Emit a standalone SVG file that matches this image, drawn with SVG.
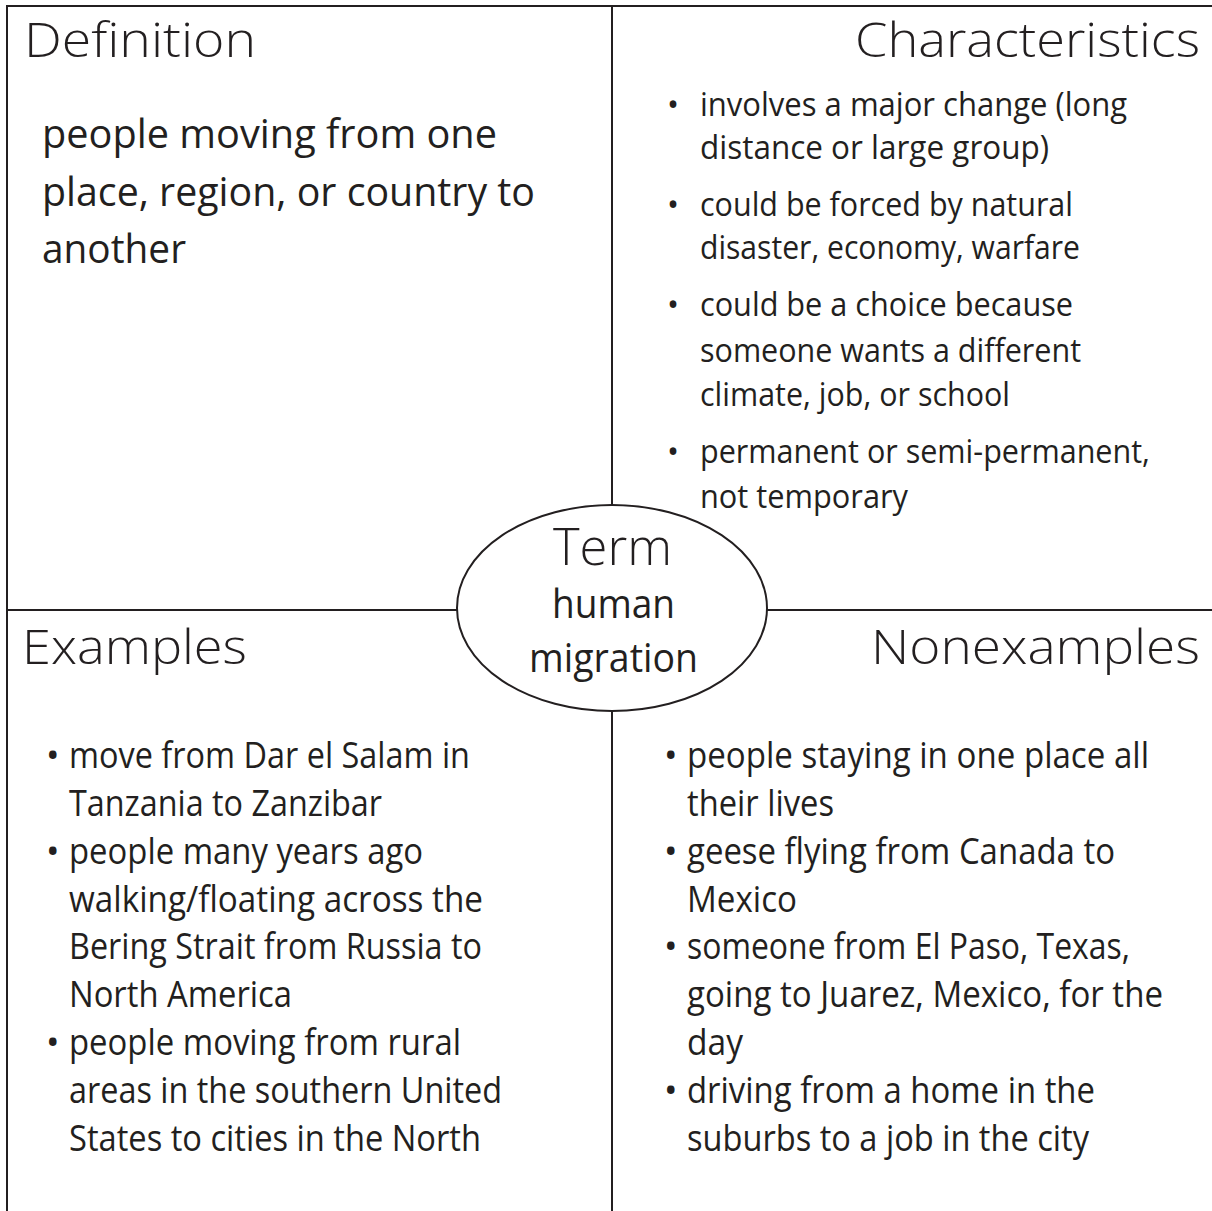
<svg xmlns="http://www.w3.org/2000/svg" width="1212" height="1211" viewBox="0 0 1212 1211">
<style>
.ln{stroke:#231f20;stroke-width:2;fill:none}
.hd{font-family:"Open Sans","Noto Sans",sans-serif;font-weight:300;font-size:48px;fill:#231f20}
.bd{font-family:"Open Sans","Noto Sans",sans-serif;font-weight:400;fill:#231f20}
.def{font-size:41px}
.ch{font-size:32px}
.ex{font-size:36px}
.term{font-family:"Open Sans","Noto Sans",sans-serif;font-weight:300;font-size:52px;fill:#231f20}
.tw{font-family:"Open Sans","Noto Sans",sans-serif;font-weight:400;font-size:40px;fill:#231f20}
</style>
<rect width="1212" height="1211" fill="#ffffff"/>
<g id="connectors">
<line class="ln" x1="6" y1="6" x2="1212" y2="6"/>
<line class="ln" x1="7" y1="5" x2="7" y2="1211"/>
<line class="ln" x1="612" y1="6" x2="612" y2="1211"/>
<line class="ln" x1="7" y1="610" x2="1212" y2="610"/>
</g>
<g id="definition">
<text class="hd" x="24" y="57" textLength="232" lengthAdjust="spacingAndGlyphs">Definition</text>
<g class="bd def" lengthAdjust="spacingAndGlyphs">
<text x="42" y="148" textLength="455" lengthAdjust="spacingAndGlyphs">people moving from one</text>
<text x="42" y="206" textLength="493" lengthAdjust="spacingAndGlyphs">place, region, or country to</text>
<text x="42" y="263" textLength="144" lengthAdjust="spacingAndGlyphs">another</text>
</g>
</g>
<g id="characteristics">
<text class="hd" x="1200" y="57" text-anchor="end" textLength="345" lengthAdjust="spacingAndGlyphs">Characteristics</text>
<g class="bd ch">
<text x="667" y="116">•</text>
<text x="700" y="116" textLength="427" lengthAdjust="spacingAndGlyphs">involves a major change (long</text>
<text x="700" y="159" textLength="349" lengthAdjust="spacingAndGlyphs">distance or large group)</text>
<text x="667" y="216">•</text>
<text x="700" y="216" textLength="373" lengthAdjust="spacingAndGlyphs">could be forced by natural</text>
<text x="700" y="259" textLength="380" lengthAdjust="spacingAndGlyphs">disaster, economy, warfare</text>
<text x="667" y="316">•</text>
<text x="700" y="316" textLength="373" lengthAdjust="spacingAndGlyphs">could be a choice because</text>
<text x="700" y="362" textLength="381" lengthAdjust="spacingAndGlyphs">someone wants a different</text>
<text x="700" y="406" textLength="310" lengthAdjust="spacingAndGlyphs">climate, job, or school</text>
<text x="667" y="463">•</text>
<text x="700" y="463" textLength="450" lengthAdjust="spacingAndGlyphs">permanent or semi-permanent,</text>
<text x="700" y="508" textLength="208" lengthAdjust="spacingAndGlyphs">not temporary</text>
</g>
</g>
<g id="examples">
<text class="hd" x="22" y="664" textLength="225" lengthAdjust="spacingAndGlyphs">Examples</text>
<g class="bd ex">
<text x="46" y="768">•</text>
<text x="69" y="768" textLength="401" lengthAdjust="spacingAndGlyphs">move from Dar el Salam in</text>
<text x="69" y="816" textLength="313" lengthAdjust="spacingAndGlyphs">Tanzania to Zanzibar</text>
<text x="46" y="864">•</text>
<text x="69" y="864" textLength="354" lengthAdjust="spacingAndGlyphs">people many years ago</text>
<text x="69" y="912" textLength="414" lengthAdjust="spacingAndGlyphs">walking/floating across the</text>
<text x="69" y="959" textLength="413" lengthAdjust="spacingAndGlyphs">Bering Strait from Russia to</text>
<text x="69" y="1007" textLength="223" lengthAdjust="spacingAndGlyphs">North America</text>
<text x="46" y="1055">•</text>
<text x="69" y="1055" textLength="392" lengthAdjust="spacingAndGlyphs">people moving from rural</text>
<text x="69" y="1103" textLength="433" lengthAdjust="spacingAndGlyphs">areas in the southern United</text>
<text x="69" y="1151" textLength="412" lengthAdjust="spacingAndGlyphs">States to cities in the North</text>
</g>
</g>
<g id="nonexamples">
<text class="hd" x="1200" y="664" text-anchor="end" textLength="329" lengthAdjust="spacingAndGlyphs">Nonexamples</text>
<g class="bd ex">
<text x="664" y="768">•</text>
<text x="687" y="768" textLength="462" lengthAdjust="spacingAndGlyphs">people staying in one place all</text>
<text x="687" y="816" textLength="147" lengthAdjust="spacingAndGlyphs">their lives</text>
<text x="664" y="864">•</text>
<text x="687" y="864" textLength="428" lengthAdjust="spacingAndGlyphs">geese flying from Canada to</text>
<text x="687" y="912" textLength="110" lengthAdjust="spacingAndGlyphs">Mexico</text>
<text x="664" y="959">•</text>
<text x="687" y="959" textLength="443" lengthAdjust="spacingAndGlyphs">someone from El Paso, Texas,</text>
<text x="687" y="1007" textLength="476" lengthAdjust="spacingAndGlyphs">going to Juarez, Mexico, for the</text>
<text x="687" y="1055" textLength="56" lengthAdjust="spacingAndGlyphs">day</text>
<text x="664" y="1103">•</text>
<text x="687" y="1103" textLength="408" lengthAdjust="spacingAndGlyphs">driving from a home in the</text>
<text x="687" y="1151" textLength="402" lengthAdjust="spacingAndGlyphs">suburbs to a job in the city</text>
</g>
</g>
<g id="term">
<ellipse cx="612" cy="608" rx="155" ry="103" fill="#ffffff" stroke="#231f20" stroke-width="2"/>
<text class="term" x="612.5" y="565" text-anchor="middle" textLength="119" lengthAdjust="spacingAndGlyphs">Term</text>
<text class="tw" x="613.5" y="618" text-anchor="middle" textLength="123" lengthAdjust="spacingAndGlyphs">human</text>
<text class="tw" x="613.5" y="672" text-anchor="middle" textLength="169" lengthAdjust="spacingAndGlyphs">migration</text>
</g>
</svg>
